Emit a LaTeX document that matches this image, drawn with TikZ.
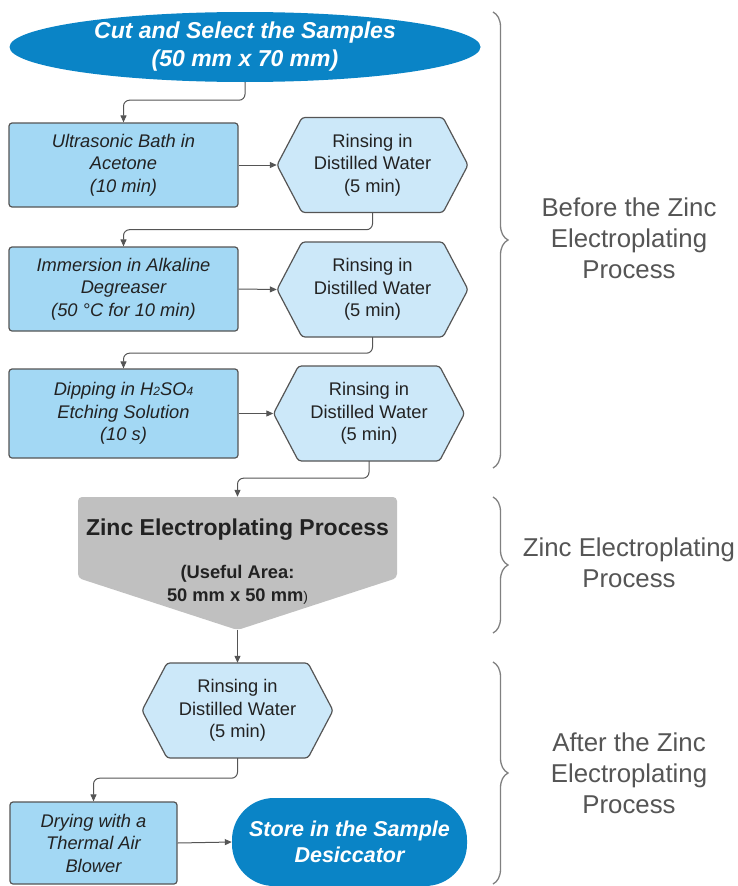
\documentclass[tikz,border=0pt]{standalone}
\usepackage{fontspec}
\setmainfont{Liberation Sans}
\usetikzlibrary{arrows.meta,decorations.pathreplacing,shapes.geometric,calc}
\definecolor{darkblue}{HTML}{0A84C6}
\definecolor{boxblue}{HTML}{A3D8F4}
\definecolor{hexblue}{HTML}{CCE8F9}
\definecolor{edgegray}{HTML}{555555}
\definecolor{zincgray}{HTML}{C0C0C0}
\definecolor{labelgray}{HTML}{555555}
\definecolor{txtdark}{HTML}{222222}
\tikzset{
  stepbox/.style={draw=edgegray, line width=1.2pt, fill=boxblue, rounded corners=3pt,
    minimum width=229pt, inner sep=0pt, align=center, text=txtdark,
    font=\fontsize{18.3}{22.5}\selectfont\itshape},
  hexline/.style={draw=edgegray, line width=1.2pt, fill=hexblue, rounded corners=3pt},
  hexstep/.style={minimum width=191pt, minimum height=95pt, inner sep=0pt, align=center,
    text=txtdark, font=\fontsize{18.3}{22.5}\selectfont},
  terminal/.style={fill=darkblue, draw=none, inner sep=0pt, align=center, text=white,
    font=\fontsize{23}{28}\selectfont\bfseries\itshape},
  conn/.style={draw=edgegray, line width=1pt, rounded corners=6pt,
    -{Triangle[length=7pt,width=6pt]}},
  bracestyle/.style={draw=gray, line width=1.3pt, decorate,
    decoration={brace, amplitude=15pt}},
  sidelabel/.style={align=center, text=labelgray, font=\fontsize{25.8}{31}\selectfont}
}
\newcommand\HexStep[4]{%
  \filldraw[hexline] (#2-95.5,#3) -- (#2-70.5,#3-47.5) -- (#2+70.5,#3-47.5)
    -- (#2+95.5,#3) -- (#2+70.5,#3+47.5) -- (#2-70.5,#3+47.5) -- cycle;
  \node[hexstep] (#1) at (#2,#3) {#4};}
\begin{document}
\begin{tikzpicture}[x=1pt,y=-1pt]
\useasboundingbox (0,0) rectangle (737,886);
% start
\node[terminal, ellipse, minimum width=471pt, minimum height=70pt] (e1) at (245,47)
  {Cut and Select the Samples\\(50 mm x 70 mm)};
% steps
\node[stepbox, minimum height=84pt] (b1) at (123.5,165) {Ultrasonic Bath in\\Acetone\\(10 min)};
\HexStep{h1}{372.5}{165}{Rinsing in\\Distilled Water\\(5 min)}
\node[stepbox, minimum height=84pt] (b2) at (123.5,289) {Immersion in Alkaline\\Degreaser\\(50 °C for 10 min)};
\HexStep{h2}{372.5}{289.5}{Rinsing in\\Distilled Water\\(5 min)}
\node[stepbox, minimum height=89pt] (b3) at (123.5,413.5) {Dipping in H{\fontsize{12}{12}\selectfont 2}SO{\fontsize{12}{12}\selectfont 4}\\Etching Solution\\(10 s)};
\HexStep{h3}{369}{413.5}{Rinsing in\\Distilled Water\\(5 min)}
% zinc electroplating
\fill[zincgray, rounded corners=4pt] (78,497) -- (397,497) -- (397,578) -- (237.5,630)
  -- (78,578) -- cycle;
\node[minimum width=319pt, minimum height=133pt, inner sep=0pt] (zinc) at (237.5,563.5) {};
\node[font=\fontsize{23}{28}\selectfont\bfseries, text=txtdark, inner sep=0pt] (zt) at (237.5,530)
  {Zinc Electroplating Process};
\node[font=\fontsize{18.3}{23}\selectfont\bfseries, text=txtdark, align=center, inner sep=0pt] (zs) at (237.5,585)
  {(Useful Area:\\50 mm x 50 mm{\mdseries\fontsize{14}{14}\selectfont)}};
\HexStep{h4}{237.5}{710.5}{Rinsing in\\Distilled Water\\(5 min)}
\node[stepbox, minimum width=167pt, minimum height=82pt] (b5) at (93.5,843) {Drying with a\\Thermal Air\\Blower};
\node[terminal, rectangle, rounded corners=42pt, minimum width=235pt, minimum height=88pt,
  font=\fontsize{21.5}{26}\selectfont\bfseries\itshape] (e2) at (349.5,842)
  {Store in the Sample\\Desiccator};
% connectors
\draw[conn] (e1.south) -- ++(0,18) -| (b1.north);
\draw[conn] (b1.east) -- (h1.west);
\draw[conn] (h1.south) -- ++(0,17) -| (b2.north);
\draw[conn] (b2.east) -- (h2.west);
\draw[conn] (h2.south) -- ++(0,16) -| (b3.north);
\draw[conn] (b3.east) -- (h3.west);
\draw[conn] (h3.south) -- ++(0,17) -| (zinc.north);
\draw[conn] (zinc.south) -- (h4.north);
\draw[conn] (h4.south) -- ++(0,20) -| (b5.north);
\draw[conn] (b5.east) -- (e2.west);
% braces
\coordinate (br1a) at (493,12);  \coordinate (br1b) at (493,468);
\coordinate (br2a) at (493,497); \coordinate (br2b) at (493,633);
\coordinate (br3a) at (493,662); \coordinate (br3b) at (493,884);
\draw[bracestyle] (br1a) -- (br1b);
\draw[bracestyle] (br2a) -- (br2b);
\draw[bracestyle] (br3a) -- (br3b);
\node[sidelabel] (l1) at (629,238) {Before the Zinc\\Electroplating\\Process};
\node[sidelabel] (l2) at (629,563) {Zinc Electroplating\\Process};
\node[sidelabel] (l3) at (629,773) {After the Zinc\\Electroplating\\Process};
\end{tikzpicture}
\end{document}
